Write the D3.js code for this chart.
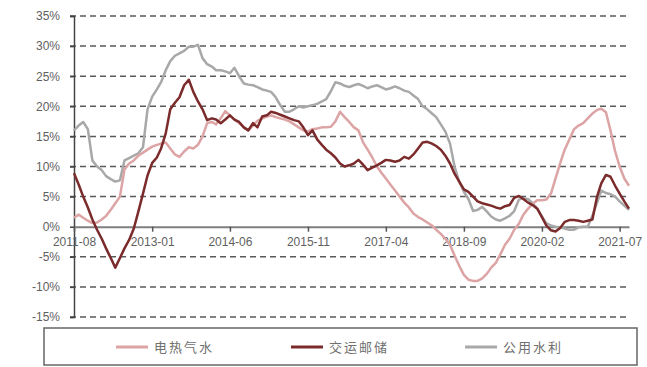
<!DOCTYPE html>
<html>
<head>
<meta charset="utf-8">
<script src="https://cdn.jsdelivr.net/npm/d3@7"></script>
<style>
  body { margin: 0; background: #fff; }
  svg text { font-family: "Liberation Sans", Arial, sans-serif; }
</style>
</head>
<body>
<div id="chart"></div>
<script>
var width = 647
var height = 367

// months 2011-08 .. 2021-09
var months = d3.timeMonth.range(new Date(2011, 7, 1), new Date(2021, 9, 1))
var tickLabels = ["2011-08", "2013-01", "2014-06", "2015-11", "2017-04", "2018-09", "2020-02", "2021-07"]
var yTicks = [35, 30, 25, 20, 15, 10, 5, 0, -5, -10, -15]
var seriesNames = ["电热气水", "交运邮储", "公用水利"]

// 电热气水
var power = [1.5, 2.0, 1.5, 1.0, 0.6, 0.7, 1.2, 1.8, 2.8, 3.9,
  5.0, 9.5, 10.5, 11.0, 11.8, 12.3, 12.8, 13.3, 13.6, 13.8,
  14.0, 13.0, 12.0, 11.6, 12.5, 13.2, 13.0, 13.6, 15.0, 17.2,
  17.4, 17.0, 18.0, 19.2, 18.5, 17.8, 17.2, 16.5, 16.0, 16.8,
  17.6, 18.0, 18.3, 18.5, 18.2, 18.0, 17.8, 17.5, 17.0, 16.5,
  16.0, 15.8, 16.2, 16.3, 16.5, 16.5, 16.6, 17.5, 19.1, 18.2,
  17.4, 16.5, 16.0, 14.0, 12.8, 11.5, 10.0, 9.0, 8.0, 7.0,
  6.0, 5.0, 4.0, 3.2, 2.2, 1.6, 1.2, 0.7, 0.2, -0.5,
  -1.2, -2.0, -3.0, -4.8, -6.5, -8.0, -8.8, -9.0, -9.0, -8.6,
  -7.8, -6.8, -6.0, -4.6, -3.0, -2.0, -0.5, 0.5, 2.0, 3.0,
  3.8, 4.4, 4.4, 4.5, 5.5, 8.0, 10.5, 12.8, 14.5, 16.2,
  16.8, 17.2, 18.0, 18.8, 19.4, 19.6, 19.0, 16.0, 12.5, 10.0,
  8.0, 6.8]

// 交运邮储
var transport = [8.9, 7.0, 5.0, 3.2, 1.2, -0.5, -2.0, -3.6, -5.2, -6.8,
  -5.2, -3.6, -2.2, -0.3, 2.5, 5.5, 8.5, 10.6, 11.5, 13.0,
  15.5, 19.5, 20.6, 21.5, 23.5, 24.4, 22.4, 20.8, 19.5, 17.7,
  18.0, 17.8, 17.2, 17.8, 18.5, 17.8, 17.4, 16.5, 16.0, 17.2,
  16.5, 18.3, 18.5, 19.1, 18.9, 18.6, 18.3, 18.0, 17.7, 17.5,
  16.5, 15.2, 16.0, 14.5, 13.6, 12.8, 12.2, 11.5, 10.5, 10.0,
  10.2, 10.5, 11.1, 10.3, 9.4, 9.8, 10.2, 10.6, 11.1, 11.0,
  10.8, 11.0, 11.6, 11.3, 12.0, 13.0, 14.0, 14.1, 13.8, 13.4,
  12.8, 11.8, 10.5, 8.8, 7.5, 6.2, 5.8, 5.0, 4.2, 3.9,
  3.7, 3.5, 3.2, 3.0, 3.4, 3.6, 4.8, 5.1, 4.6, 4.0,
  3.6, 3.0, 1.6, 0.2, -0.6, -0.8, -0.2, 0.8, 1.1, 1.1,
  1.0, 0.8, 1.0, 1.2, 5.0, 7.2, 8.6, 8.3, 6.8, 5.5,
  4.2, 3.0]

// 公用水利
var utility = [16.0, 16.8, 17.4, 16.2, 11.0, 10.0, 9.4, 8.4, 7.9, 7.5,
  7.7, 11.0, 11.4, 11.8, 12.2, 13.2, 19.5, 21.6, 22.8, 24.0,
  26.0, 27.5, 28.4, 28.8, 29.2, 29.9, 29.9, 30.2, 28.0, 27.0,
  26.6, 26.0, 26.0, 25.8, 25.5, 26.4, 25.0, 23.8, 23.6, 23.5,
  23.2, 22.8, 22.6, 22.4, 21.5, 20.2, 19.1, 19.1, 19.5, 20.0,
  19.8, 20.0, 20.2, 20.4, 20.8, 21.2, 22.5, 24.0, 23.8, 23.4,
  23.2, 23.5, 23.7, 23.4, 23.0, 23.3, 23.5, 23.2, 22.8, 23.0,
  23.3, 23.0, 22.6, 22.4, 21.8, 21.2, 20.0, 19.5, 18.8, 18.2,
  17.0, 15.8, 13.8, 10.0, 7.5, 5.8, 4.6, 2.6, 2.8, 3.3,
  2.5, 1.7, 1.2, 1.0, 1.4, 1.8, 2.6, 4.5, 4.7, 4.6,
  3.9, 3.0, 1.7, 0.6, 0.2, 0.0, -0.1, -0.3, -0.5, -0.5,
  -0.1, 0.0, 0.0, 1.8, 4.0, 6.0, 5.6, 5.4, 5.0, 4.2,
  3.5, 2.8]

var colors = ["#dca4a4", "#7b2b2b", "#a8a8a8"]

var svg = d3.select("#chart").append("svg")
    .attr("width", width)
    .attr("height", height)

var x = d3.scaleTime()
    .domain([months[0], months[months.length - 1]])
    .range([74, 629])

var y = d3.scaleLinear()
    .domain([-15, 35])
    .range([317, 16])

//dashed grid
svg.selectAll("line.grid")
    .data(yTicks.filter(function(d) { return d != 0 }))
    .enter().append("line")
    .attr("class", "grid")
    .attr("x1", 70).attr("x2", 630)
    .attr("y1", function(d) { return y(d) })
    .attr("y2", function(d) { return y(d) })
    .attr("stroke", "#5a5a5a")
    .attr("stroke-width", 1.5)
    .attr("stroke-dasharray", "6,4")

//y axis
var yAxis = d3.axisLeft(y)
    .tickValues(yTicks)
    .tickSize(4)
    .tickPadding(10)
    .tickFormat(function(d) { return d + "%" })

var gy = svg.append("g").attr("transform", "translate(74,0)").call(yAxis)
gy.select(".domain").attr("stroke", "#444").attr("stroke-width", 1.5)
gy.selectAll(".tick line").attr("stroke", "#444").attr("stroke-width", 1.5)
gy.selectAll(".tick text").attr("fill", "#5f5f5f").style("font-size", "12px")

//x axis at 0%
var tickDates = tickLabels.map(function(s) {
    var p = s.split("-")
    return new Date(+p[0], +p[1] - 1, 1)
})
var xAxis = d3.axisBottom(x)
    .tickValues(tickDates)
    .tickSize(5)
    .tickSizeOuter(0)
    .tickPadding(6)
    .tickFormat(d3.timeFormat("%Y-%m"))

var gx = svg.append("g").attr("transform", "translate(0," + y(0) + ")").call(xAxis)
gx.select(".domain").attr("stroke", "#7f7f7f").attr("stroke-width", 2)
gx.selectAll(".tick line").attr("stroke", "#555").attr("stroke-width", 1.5)
gx.selectAll(".tick text").attr("fill", "#5f5f5f").style("font-size", "12px")

//lines
var line = d3.line()
    .x(function(d, i) { return x(months[i]) })
    .y(function(d) { return y(d) })

var drawOrder = [[utility, 2], [power, 0], [transport, 1]]
drawOrder.forEach(function(s) {
    svg.append("path")
        .datum(s[0])
        .attr("d", line)
        .attr("fill", "none")
        .attr("stroke", colors[s[1]])
        .attr("stroke-width", 2.5)
        .attr("stroke-linejoin", "round")
})

//legend
svg.append("rect")
    .attr("x", 44).attr("y", 328)
    .attr("width", 593).attr("height", 37)
    .attr("fill", "#fff")
    .attr("stroke", "#666")
    .attr("stroke-width", 1.5)

var legendX = [116, 291, 465]
seriesNames.forEach(function(name, i) {
    svg.append("line")
        .attr("x1", legendX[i]).attr("x2", legendX[i] + 32)
        .attr("y1", 347).attr("y2", 347)
        .attr("stroke", colors[i])
        .attr("stroke-width", 3)
    svg.append("text")
        .attr("x", legendX[i] + 38)
        .attr("y", 351.5)
        .attr("fill", "#6f6f6f")
        .style("font-family", "'Noto Sans CJK SC'")
        .style("font-size", "13px")
        .style("letter-spacing", "2px")
        .text(name)
})
</script>
</body>
</html>
